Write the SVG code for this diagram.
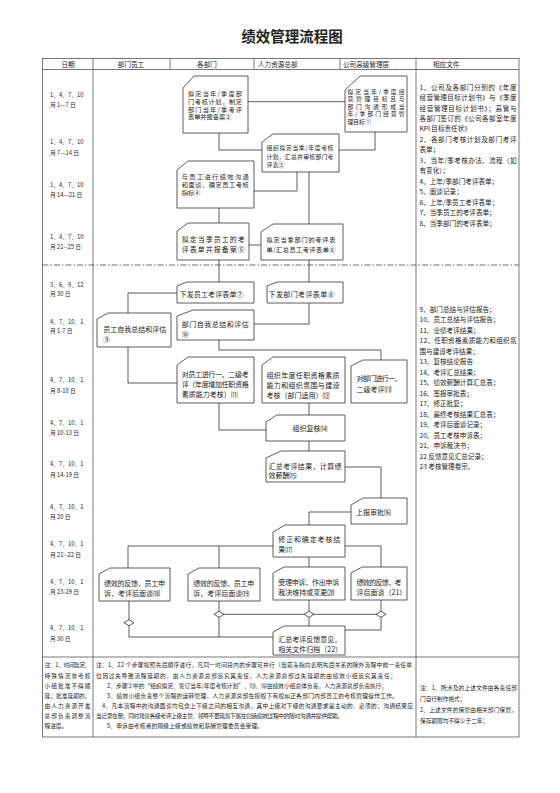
<svg xmlns="http://www.w3.org/2000/svg" width="560" height="793" viewBox="0 0 560 793">
<style>
text{font-family:"Noto Sans CJK SC","Noto Sans",sans-serif;fill:#222}
.t{font-size:7px}
.s{font-size:6.2px}
.d{font-size:5.8px}
.h{font-size:6.6px}
.f{font-size:6.6px}
.nt{font-size:5.7px}
.nd{fill:#fff;stroke:#333;stroke-width:0.8}
.tb{fill:none;stroke:#555;stroke-width:0.8}
.cn{fill:none;stroke:#333;stroke-width:0.8}
.cn .a{marker-end:url(#ah)}
.dm{fill:#fff;stroke:#333;stroke-width:0.8}
</style>
<defs>
<marker id="ah" viewBox="0 0 6 6" refX="6" refY="3" markerWidth="4.5" markerHeight="4" markerUnits="userSpaceOnUse" orient="auto"><path d="M0,0 L6,3 L0,6 Z" fill="#222"/></marker>
</defs>
<rect width="560" height="793" fill="#fff"/>
<text x="292" y="42" text-anchor="middle" style="font-size:14.5px;font-weight:bold">绩效管理流程图</text>

<g id="table">
<rect class="tb" x="42.5" y="58.5" width="476.5" height="678.5"/>
<line class="tb" x1="42.5" y1="69.5" x2="519" y2="69.5"/>
<line class="tb" x1="42.5" y1="657" x2="519" y2="657"/>
<line class="tb" x1="93" y1="58.5" x2="93" y2="737"/>
<line class="tb" x1="416" y1="58.5" x2="416" y2="737"/>
<line class="tb" x1="170" y1="58.5" x2="170" y2="69.5"/>
<line class="tb" x1="254" y1="58.5" x2="254" y2="69.5"/>
<line class="tb" x1="340" y1="58.5" x2="340" y2="69.5"/>
<line x1="42.5" y1="265" x2="519" y2="265" stroke="#444" stroke-width="0.8" stroke-dasharray="6,2,1.5,2"/>
<text class="h" x="68" y="66.5" text-anchor="middle">日期</text>
<text class="h" x="131" y="66.5" text-anchor="middle">部门员工</text>
<text class="h" x="207" y="66.5" text-anchor="middle">各部门</text>
<text class="h" x="258" y="66.5">人力资源总部</text>
<text class="h" x="343" y="66.5">公司高级管理层</text>
<text class="h" x="433" y="66.5">相应文件</text>
</g>

<g id="dates">
<text class="d" x="50" y="97">1、4、7、10</text><text class="d" x="50" y="107">月 1—7 日</text>
<text class="d" x="50" y="144">1、4、7、10</text><text class="d" x="50" y="155">月 7—14 日</text>
<text class="d" x="50" y="187">1、4、7、10</text><text class="d" x="50" y="197">月 14—21 日</text>
<text class="d" x="50" y="239">1、4、7、10</text><text class="d" x="50" y="249">月 21--25 日</text>
<text class="d" x="50" y="287">3、6、9、12</text><text class="d" x="50" y="296">月 30 日</text>
<text class="d" x="50" y="324">4、7、10、1</text><text class="d" x="50" y="333">月 1-7 日</text>
<text class="d" x="50" y="382">4、7、10、1</text><text class="d" x="50" y="393">月 8-10 日</text>
<text class="d" x="50" y="425">4、7、10、1</text><text class="d" x="50" y="435">月 10-13 日</text>
<text class="d" x="50" y="466">4、7、10、1</text><text class="d" x="50" y="477">月 14-19 日</text>
<text class="d" x="50" y="509">4、7、10、1</text><text class="d" x="50" y="519">月 20 日</text>
<text class="d" x="50" y="546">4、7、10、1</text><text class="d" x="50" y="557">月 21--22 日</text>
<text class="d" x="50" y="584">4、7、10、1</text><text class="d" x="50" y="594">月 23-29 日</text>
<text class="d" x="50" y="630">4、7、10、1</text><text class="d" x="50" y="641">月 30 日</text>
</g>

<g id="files">
<text class="f" x="419.5" y="89.5" textLength="97" lengthAdjust="spacing">1、公司及各部门分别的《年度</text>
<text class="f" x="419.5" y="100" textLength="97" lengthAdjust="spacing">经营管理目标计划书》与《季度</text>
<text class="f" x="419.5" y="110.5" textLength="97" lengthAdjust="spacing">经营管理目标计划书》；高管与</text>
<text class="f" x="419.5" y="120.9" textLength="97" lengthAdjust="spacing">各部门签订的《公司各部室年度</text>
<text class="f" x="419.5" y="131.3">KPI 目标责任状》</text>
<text class="f" x="419.5" y="141.8" textLength="97" lengthAdjust="spacing">2、各部门考核计划及部门考评</text>
<text class="f" x="419.5" y="152.3">表单；</text>
<text class="f" x="419.5" y="162.7" textLength="97" lengthAdjust="spacing">3、当年/季考核办法、流程（如</text>
<text class="f" x="419.5" y="173.2">有变化）；</text>
<text class="f" x="419.5" y="183.6">4、上年/季部门考评表单；</text>
<text class="f" x="419.5" y="194.1">5、面谈记录；</text>
<text class="f" x="419.5" y="204.5">6、上年/季员工考评表单；</text>
<text class="f" x="419.5" y="215">7、当季员工的考评表单；</text>
<text class="f" x="419.5" y="225.5">8、当季部门的考评表单；</text>

<text class="f" x="419.5" y="311.5">9、部门总结与评估报告；</text>
<text class="f" x="419.5" y="322">10、员工总结与评估报告；</text>
<text class="f" x="419.5" y="332.5">11、业绩考评结果；</text>
<text class="f" x="419.5" y="343" textLength="97" lengthAdjust="spacing">12、任职资格素质能力和组织氛</text>
<text class="f" x="419.5" y="353.5">围与建设考评结果；</text>
<text class="f" x="419.5" y="364">13、复核结论报告</text>
<text class="f" x="419.5" y="374.5">14、考评汇总结果；</text>
<text class="f" x="419.5" y="385">15、绩效薪酬计算汇总表；</text>
<text class="f" x="419.5" y="395.5">16、签报审批表；</text>
<text class="f" x="419.5" y="406">17、修正批复；</text>
<text class="f" x="419.5" y="416.5">18、最终考核结果汇总表；</text>
<text class="f" x="419.5" y="427">19、考评后面谈记录；</text>
<text class="f" x="419.5" y="437.5">20、员工考核申诉表；</text>
<text class="f" x="419.5" y="448">21、申诉裁决书；</text>
<text class="f" x="419.5" y="458.5">22 反馈意见汇总记录；</text>
<text class="f" x="419.5" y="469">23 考核管理卷宗。</text>
</g>

<g id="connectors">
<path class="cn a" d="M345,101.7 H248"/>
<path class="cn a" d="M375,132 V150 H339"/>
<path class="cn a" d="M219,133 V150 H262"/>
<path class="cn a" d="M297,172 V191 H254"/>
<path class="cn a" d="M309,172 V224"/>
<path class="cn a" d="M219,208 V223"/>
<path class="cn a" d="M249,245 H261"/>
<path class="cn a" d="M219,260 V282"/>
<path class="cn a" d="M309,260 V282"/>
<path class="cn a" d="M177,293 H128 V313"/>
<path class="cn a" d="M309,303 V324 H254"/>
<path class="cn a" d="M128,347 V383 H177"/>
<path class="cn a" d="M219,340 V350 H381 V360"/>
<path class="cn a" d="M219,403 V430 H266"/>
<path class="cn a" d="M309,403 V415"/>
<path class="cn a" d="M309,441 V451"/>
<path class="cn a" d="M345,467 H381 V498"/>
<path class="cn a" d="M351,512 H309 V525"/>
<path class="cn a" d="M273,546 H128 V568"/>
<path class="cn a" d="M219,546 V568"/>
<path class="cn a" d="M345,546 H381 V567"/>
<path class="cn a" d="M309,567 V557"/>
<path class="cn a" d="M309,611.3 V600"/>
<path class="cn" d="M309,617.3 V626"/>
<path class="cn" d="M219,614.3 H381"/>
<path class="cn a" d="M129,601 V637 H273"/>
<path class="cn" d="M219,601 V637"/>
<path class="cn" d="M381,600 V630 H345"/>
<path class="dm" d="M124,622.7 L129,619.7 L134,622.7 L129,625.7 Z"/>
<path class="dm" d="M214,614.3 L219,611.3 L224,614.3 L219,617.3 Z"/>
<path class="dm" d="M304,614.3 L309,611.3 L314,614.3 L309,617.3 Z"/>
<path class="dm" d="M376,614.3 L381,611.3 L386,614.3 L381,617.3 Z"/>
</g>

<g id="n1"><path class="nd" d="M345,90 L360,76 H407 V132 H345 Z"/>
<text style="font-size:5.8px" x="347.5" y="93.8" textLength="57" lengthAdjust="spacing">拟定当年/季度经</text>
<text style="font-size:5.8px" x="347.5" y="101.3" textLength="57" lengthAdjust="spacing">营管理目标且与</text>
<text style="font-size:5.8px" x="347.5" y="108.8" textLength="57" lengthAdjust="spacing">部门沟通形成当</text>
<text style="font-size:5.8px" x="347.5" y="116.3" textLength="57" lengthAdjust="spacing">年/季部门经营管</text>
<text style="font-size:5.8px" x="347.5" y="123.8">理目标①</text></g>

<g id="n2"><path class="nd" d="M183,88 L194,76 H248 V133 H183 Z"/>
<text class="s" x="188" y="95.7" textLength="54" lengthAdjust="spacing">拟定当年/季度部</text>
<text class="s" x="188" y="104" textLength="54" lengthAdjust="spacing">门考核计划，制定</text>
<text class="s" x="188" y="111.5" textLength="54" lengthAdjust="spacing">部门当年/季考评</text>
<text class="s" x="188" y="119.2">表单并报备案②</text></g>

<g id="n3"><path class="nd" d="M262,142 L273,134 H339 V172 H262 Z"/>
<text style="font-size:5.9px" x="266.5" y="150.2" textLength="67" lengthAdjust="spacing">组织拟定当季/年度考核</text>
<text style="font-size:5.9px" x="266.5" y="158.5" textLength="67" lengthAdjust="spacing">计划，汇总并审核部门考</text>
<text style="font-size:5.9px" x="266.5" y="167">评表③</text></g>

<g id="n4"><path class="nd" d="M177,170 L188,161 H254 V208 H177 Z"/>
<text class="s" x="181.7" y="179" textLength="67" lengthAdjust="spacing">与员工进行绩效沟通</text>
<text class="s" x="181.7" y="186.7" textLength="67" lengthAdjust="spacing">和面谈，确定员工考核</text>
<text class="s" x="181.7" y="194.6">指标④</text></g>

<g id="n5"><path class="nd" d="M177,231 L188,223 H249 V260 H177 Z"/>
<text class="t" x="181.7" y="241.7" textLength="63" lengthAdjust="spacing">拟定当季员工的考</text>
<text class="t" x="181.7" y="251.7" textLength="63" lengthAdjust="spacing">评表单并报备案⑤</text></g>

<g id="n6"><path class="nd" d="M261,232 L273,224 H343 V260 H261 Z"/>
<text class="s" x="266.5" y="241.7" textLength="69" lengthAdjust="spacing">拟定当季部门的考评表</text>
<text class="s" x="266.5" y="251.7" textLength="69" lengthAdjust="spacing">单/汇总员工考评表单⑥</text></g>

<g id="n7"><path class="nd" d="M177,286 L187,282 H254 V303 H177 Z"/>
<text class="t" x="179.5" y="297.4" textLength="64" lengthAdjust="spacing">下发员工考评表单⑦</text></g>

<g id="n8"><path class="nd" d="M267,286 L277,282 H343 V303 H267 Z"/>
<text class="t" x="268.5" y="297.4" textLength="66" lengthAdjust="spacing">下发部门考评表单⑧</text></g>

<g id="n9"><path class="nd" d="M97,319 L108,313 H171 V347 H97 Z"/>
<text class="t" x="103.3" y="331.7" textLength="63" lengthAdjust="spacing">员工自我总结和评估</text>
<text class="t" x="103.3" y="341.7">⑨</text></g>

<g id="n10"><path class="nd" d="M177,316 L193,310 H254 V340 H177 Z"/>
<text class="t" x="181.7" y="326.7" textLength="67" lengthAdjust="spacing">部门自我总结和评估</text>
<text class="t" x="181.7" y="336.7">⑩</text></g>

<g id="n11"><path class="nd" d="M177,365 L188,357 H254 V403 H177 Z"/>
<text class="t" x="181.7" y="377.4" textLength="67" lengthAdjust="spacing">对员工进行一、二级考</text>
<text class="t" x="181.7" y="387.4" textLength="67" lengthAdjust="spacing">评（年度增加任职资格</text>
<text class="t" x="181.7" y="397.4">素质能力考核）⑾</text></g>

<g id="n12"><path class="nd" d="M262,365 L273,357 H345 V403 H262 Z"/>
<text class="t" x="266.5" y="378.4" textLength="73" lengthAdjust="spacing">组织年度任职资格素质</text>
<text class="t" x="266.5" y="388.4" textLength="73" lengthAdjust="spacing">能力和组织氛围与建设</text>
<text class="t" x="266.5" y="398.4">考核（部门适用）⑿</text></g>

<g id="n13"><path class="nd" d="M351,366 L363,360 H407 V403 H351 Z"/>
<text class="t" x="356.5" y="380.7" textLength="45" lengthAdjust="spacing">对部门进行一、</text>
<text class="t" x="356.5" y="391.7">二级考评⒀</text></g>

<g id="n14"><path class="nd" d="M266,422 L277,415 H345 V441 H266 Z"/>
<text class="t" x="292.5" y="430.7">组织复核⒁</text></g>

<g id="n15"><path class="nd" d="M266,458 L281,451 H345 V482 H266 Z"/>
<text class="t" x="268.5" y="469.1" textLength="73" lengthAdjust="spacing">汇总考评结果，计算绩</text>
<text class="t" x="268.5" y="478.4">效薪酬⒂</text></g>

<g id="n16"><path class="nd" d="M351,505 L363,498 H407 V524 H351 Z"/>
<text class="t" x="356" y="514.7">上报审批⒃</text></g>

<g id="n17"><path class="nd" d="M273,532 L285,525 H345 V557 H273 Z"/>
<text class="t" x="278.3" y="541.7" textLength="62" lengthAdjust="spacing">修正和确定考核结</text>
<text class="t" x="278.3" y="552.4">果⒄</text></g>

<g id="n18"><path class="nd" d="M99,574 L110,568 H170 V601 H99 Z"/>
<text class="t" x="104" y="585.7" textLength="61" lengthAdjust="spacing">绩效的反馈，员工申</text>
<text class="t" x="104" y="595.7">诉，考评后面谈⒅</text></g>

<g id="n19"><path class="nd" d="M188,574 L199,568 H260 V601 H188 Z"/>
<text class="t" x="193.3" y="585.7" textLength="61" lengthAdjust="spacing">绩效的反馈，员工申</text>
<text class="t" x="193.3" y="595.7">诉，考评后面谈⒆</text></g>

<g id="n20"><path class="nd" d="M273,573 L284,567 H345 V600 H273 Z"/>
<text class="t" x="278.3" y="584.7" textLength="61" lengthAdjust="spacing">受理申诉，作出申诉</text>
<text class="t" x="278.3" y="595.1">裁决维持或变更⒇</text></g>

<g id="n21"><path class="nd" d="M351,573 L362,567 H407 V600 H351 Z"/>
<text class="t" x="356.5" y="584.7" textLength="45" lengthAdjust="spacing">绩效的反馈，考</text>
<text class="t" x="356.5" y="595.1">评后面谈（21）</text></g>

<g id="n22"><path class="nd" d="M273,632 L284,626 H345 V655 H273 Z"/>
<text class="t" x="278.3" y="641.7">汇总考评反馈意见，</text>
<text class="t" x="278.3" y="652.4">相关文件归档（22）</text></g>

<g id="notes">
<text class="nt" x="44.5" y="667" textLength="46" lengthAdjust="spacing">注：1、时间既定、</text>
<text class="nt" x="44.5" y="677.5" textLength="46" lengthAdjust="spacing">特殊情况非考核</text>
<text class="nt" x="44.5" y="688" textLength="46" lengthAdjust="spacing">小组批准不得顺</text>
<text class="nt" x="44.5" y="698" textLength="46" lengthAdjust="spacing">延；批准延期的，</text>
<text class="nt" x="44.5" y="708" textLength="46" lengthAdjust="spacing">由人力资源开发</text>
<text class="nt" x="44.5" y="718" textLength="46" lengthAdjust="spacing">总部负责调整流</text>
<text class="nt" x="44.5" y="728">程进度。</text>

<text class="nt" x="96" y="667" textLength="316" lengthAdjust="spacing">注：1、22 个步骤按照先后顺序进行，凡同一时间段内的步骤可并行（但箭头指向表明先后关系的除外流程中前一责任单</text>
<text class="nt" x="96" y="678" textLength="300" lengthAdjust="spacing">位因过失导致流程延期的，由人力资源总部追究其责任，人力资源总部过失延期的由绩效小组追究其责任；</text>
<text class="nt" x="107" y="688" textLength="280" lengthAdjust="spacing">2、步骤②中的“组织拟定、签订当年/年度考核计划”、⒀、⒃由绩效小组总体负责，人力资源总部负责执行；</text>
<text class="nt" x="107" y="697.5" textLength="291" lengthAdjust="spacing">3、绩效小组负责整个流程的运转管理，人力资源总部在授权下有权纠正各部门内部员工的考核管理操作工作。</text>
<text class="nt" x="102" y="707.5" textLength="311" lengthAdjust="spacing">4、凡本流程中的沟通面谈均包含上下级之间的相互沟通，其中上级对下级的沟通要求是主动的、必须的；沟通结果应</text>
<text class="nt" x="96" y="717.5" textLength="247" lengthAdjust="spacing">当记录在册；同时建议各级考评上级主管、领导不要疏忽下属在创造绩效过程中的随时沟通并提供帮助。</text>
<text class="nt" x="107" y="727.5" textLength="156" lengthAdjust="spacing">5、申诉由考核者的隔级上级或绩效和薪酬管理委员会受理。</text>

<text class="nt" x="420" y="690" textLength="97" lengthAdjust="spacing">注：1、所涉及的上述文件由各责任部</text>
<text class="nt" x="420" y="701">门自行制作格式；</text>
<text class="nt" x="420" y="712" textLength="97" lengthAdjust="spacing">2、上述文件的保管由相关部门保管，</text>
<text class="nt" x="420" y="723">保存期限均不得少于二年；</text>
</g>
</svg>
